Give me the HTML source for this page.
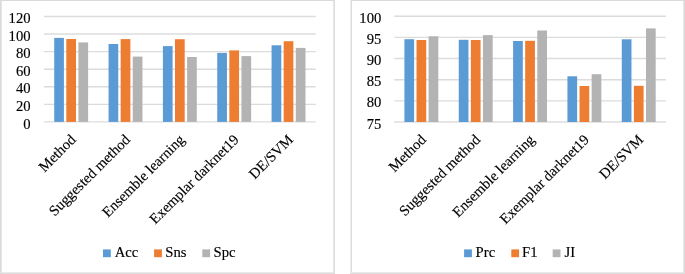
<!DOCTYPE html>
<html><head><meta charset="utf-8"><title>Charts</title>
<style>
html,body{margin:0;padding:0;background:#FFFFFF;}
body{width:685px;height:274px;overflow:hidden;}
svg{display:block;}
text{font-family:"Liberation Serif","Times New Roman",serif;font-size:14.67px;fill:#000000;stroke:#000000;stroke-width:0.15px;}
</style></head><body>
<svg width="685" height="274" viewBox="0 0 685 274" xmlns="http://www.w3.org/2000/svg">
<rect x="0" y="0" width="685" height="274" fill="#FFFFFF"/>
<rect x="0" y="0" width="335" height="1" fill="#DBDBDB"/>
<rect x="0" y="0" width="1" height="274" fill="#DBDBDB"/>
<rect x="1" y="1" width="1" height="272" fill="#E6E6E6"/>
<rect x="333" y="1" width="1" height="272" fill="#E6E6E6"/>
<rect x="334" y="0" width="1" height="274" fill="#DEDEDE"/>
<rect x="1" y="272" width="333" height="1" fill="#EAEAEA"/>
<rect x="0" y="273" width="335" height="1" fill="#DBDBDB"/>
<rect x="350" y="0" width="335" height="1" fill="#DBDBDB"/>
<rect x="350" y="0" width="1" height="274" fill="#EEEEEE"/>
<rect x="351" y="0" width="1" height="274" fill="#DBDBDB"/>
<rect x="683" y="1" width="1" height="272" fill="#E8E8E8"/>
<rect x="684" y="0" width="1" height="274" fill="#DBDBDB"/>
<rect x="351" y="272" width="333" height="1" fill="#EAEAEA"/>
<rect x="350" y="273" width="335" height="1" fill="#DBDBDB"/>
<line x1="44.00" y1="121.90" x2="315.70" y2="121.90" stroke="#DCDCDC" stroke-width="1.4"/>
<text x="30.60" y="128.50" text-anchor="end">0</text>
<line x1="44.00" y1="104.33" x2="315.70" y2="104.33" stroke="#DCDCDC" stroke-width="1.4"/>
<text x="30.60" y="110.93" text-anchor="end">20</text>
<line x1="44.00" y1="86.77" x2="315.70" y2="86.77" stroke="#DCDCDC" stroke-width="1.4"/>
<text x="30.60" y="93.37" text-anchor="end">40</text>
<line x1="44.00" y1="69.20" x2="315.70" y2="69.20" stroke="#DCDCDC" stroke-width="1.4"/>
<text x="30.60" y="75.80" text-anchor="end">60</text>
<line x1="44.00" y1="51.63" x2="315.70" y2="51.63" stroke="#DCDCDC" stroke-width="1.4"/>
<text x="30.60" y="58.23" text-anchor="end">80</text>
<line x1="44.00" y1="34.07" x2="315.70" y2="34.07" stroke="#DCDCDC" stroke-width="1.4"/>
<text x="30.60" y="40.67" text-anchor="end">100</text>
<line x1="44.00" y1="16.50" x2="315.70" y2="16.50" stroke="#DCDCDC" stroke-width="1.4"/>
<text x="30.60" y="23.10" text-anchor="end">120</text>
<rect x="54.22" y="37.90" width="9.70" height="84.00" fill="#5B9BD5"/>
<rect x="66.32" y="39.00" width="9.70" height="82.90" fill="#ED7D31"/>
<rect x="78.42" y="42.40" width="9.70" height="79.50" fill="#B3B3B3"/>
<rect x="108.56" y="44.00" width="9.70" height="77.90" fill="#5B9BD5"/>
<rect x="120.66" y="39.10" width="9.70" height="82.80" fill="#ED7D31"/>
<rect x="132.76" y="56.60" width="9.70" height="65.30" fill="#B3B3B3"/>
<rect x="162.90" y="46.10" width="9.70" height="75.80" fill="#5B9BD5"/>
<rect x="175.00" y="39.20" width="9.70" height="82.70" fill="#ED7D31"/>
<rect x="187.10" y="57.00" width="9.70" height="64.90" fill="#B3B3B3"/>
<rect x="217.24" y="52.90" width="9.70" height="69.00" fill="#5B9BD5"/>
<rect x="229.34" y="50.40" width="9.70" height="71.50" fill="#ED7D31"/>
<rect x="241.44" y="56.10" width="9.70" height="65.80" fill="#B3B3B3"/>
<rect x="271.58" y="45.30" width="9.70" height="76.60" fill="#5B9BD5"/>
<rect x="283.68" y="41.20" width="9.70" height="80.70" fill="#ED7D31"/>
<rect x="295.78" y="47.90" width="9.70" height="74.00" fill="#B3B3B3"/>
<text x="76.67" y="140.50" text-anchor="end" transform="rotate(-45 76.67 140.50)">Method</text>
<text x="131.01" y="140.50" text-anchor="end" transform="rotate(-45 131.01 140.50)">Suggested method</text>
<text x="185.35" y="140.50" text-anchor="end" transform="rotate(-45 185.35 140.50)">Ensemble learning</text>
<text x="239.69" y="140.50" text-anchor="end" transform="rotate(-45 239.69 140.50)">Exemplar darknet19</text>
<text x="294.03" y="140.50" text-anchor="end" transform="rotate(-45 294.03 140.50)">DE/SVM</text>
<rect x="103.00" y="249.40" width="7.80" height="7.80" fill="#5B9BD5"/>
<text x="114.70" y="257.10">Acc</text>
<rect x="154.10" y="249.40" width="7.80" height="7.80" fill="#ED7D31"/>
<text x="165.30" y="257.10">Sns</text>
<rect x="202.30" y="249.40" width="7.80" height="7.80" fill="#B3B3B3"/>
<text x="213.50" y="257.10">Spc</text>
<line x1="394.20" y1="122.00" x2="665.90" y2="122.00" stroke="#DCDCDC" stroke-width="1.4"/>
<text x="381.30" y="128.60" text-anchor="end">75</text>
<line x1="394.20" y1="100.84" x2="665.90" y2="100.84" stroke="#DCDCDC" stroke-width="1.4"/>
<text x="381.30" y="107.44" text-anchor="end">80</text>
<line x1="394.20" y1="79.68" x2="665.90" y2="79.68" stroke="#DCDCDC" stroke-width="1.4"/>
<text x="381.30" y="86.28" text-anchor="end">85</text>
<line x1="394.20" y1="58.52" x2="665.90" y2="58.52" stroke="#DCDCDC" stroke-width="1.4"/>
<text x="381.30" y="65.12" text-anchor="end">90</text>
<line x1="394.20" y1="37.36" x2="665.90" y2="37.36" stroke="#DCDCDC" stroke-width="1.4"/>
<text x="381.30" y="43.96" text-anchor="end">95</text>
<line x1="394.20" y1="16.20" x2="665.90" y2="16.20" stroke="#DCDCDC" stroke-width="1.4"/>
<text x="381.30" y="22.80" text-anchor="end">100</text>
<rect x="404.42" y="39.20" width="9.70" height="82.80" fill="#5B9BD5"/>
<rect x="416.52" y="40.00" width="9.70" height="82.00" fill="#ED7D31"/>
<rect x="428.62" y="36.30" width="9.70" height="85.70" fill="#B3B3B3"/>
<rect x="458.76" y="39.80" width="9.70" height="82.20" fill="#5B9BD5"/>
<rect x="470.86" y="40.00" width="9.70" height="82.00" fill="#ED7D31"/>
<rect x="482.96" y="35.10" width="9.70" height="86.90" fill="#B3B3B3"/>
<rect x="513.10" y="41.00" width="9.70" height="81.00" fill="#5B9BD5"/>
<rect x="525.20" y="40.80" width="9.70" height="81.20" fill="#ED7D31"/>
<rect x="537.30" y="30.50" width="9.70" height="91.50" fill="#B3B3B3"/>
<rect x="567.44" y="76.30" width="9.70" height="45.70" fill="#5B9BD5"/>
<rect x="579.54" y="86.00" width="9.70" height="36.00" fill="#ED7D31"/>
<rect x="591.64" y="74.20" width="9.70" height="47.80" fill="#B3B3B3"/>
<rect x="621.78" y="39.30" width="9.70" height="82.70" fill="#5B9BD5"/>
<rect x="633.88" y="85.80" width="9.70" height="36.20" fill="#ED7D31"/>
<rect x="645.98" y="28.40" width="9.70" height="93.60" fill="#B3B3B3"/>
<text x="426.87" y="140.50" text-anchor="end" transform="rotate(-45 426.87 140.50)">Method</text>
<text x="481.21" y="140.50" text-anchor="end" transform="rotate(-45 481.21 140.50)">Suggested method</text>
<text x="535.55" y="140.50" text-anchor="end" transform="rotate(-45 535.55 140.50)">Ensemble learning</text>
<text x="589.89" y="140.50" text-anchor="end" transform="rotate(-45 589.89 140.50)">Exemplar darknet19</text>
<text x="644.23" y="140.50" text-anchor="end" transform="rotate(-45 644.23 140.50)">DE/SVM</text>
<rect x="464.10" y="249.40" width="7.80" height="7.80" fill="#5B9BD5"/>
<text x="475.60" y="257.10">Prc</text>
<rect x="511.30" y="249.40" width="7.80" height="7.80" fill="#ED7D31"/>
<text x="522.00" y="257.10">F1</text>
<rect x="552.70" y="249.40" width="7.80" height="7.80" fill="#B3B3B3"/>
<text x="564.50" y="257.10">JI</text>
</svg>
</body></html>
